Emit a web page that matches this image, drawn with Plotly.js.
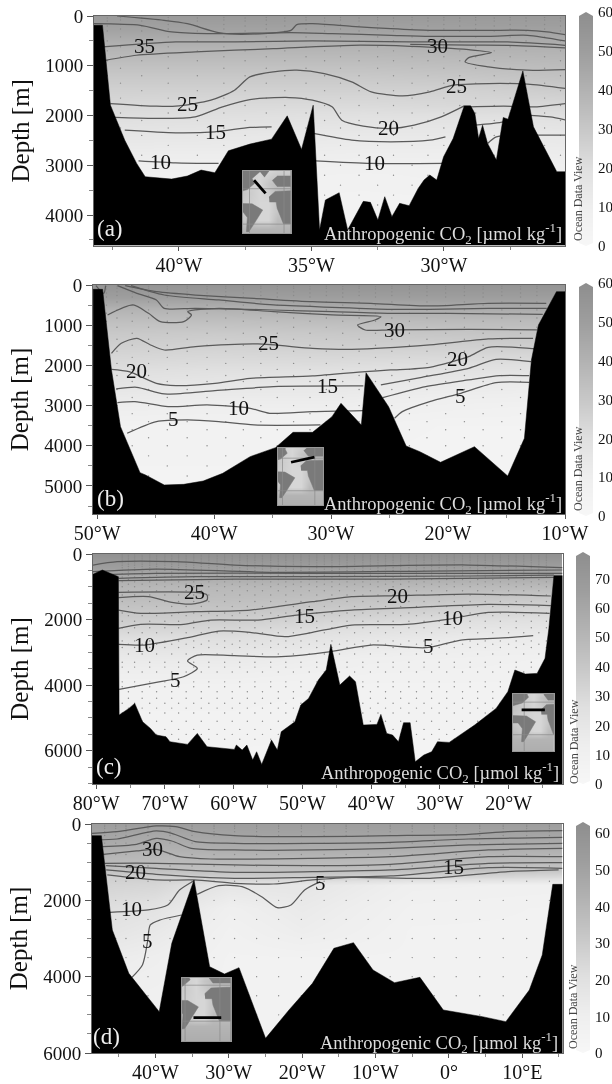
<!DOCTYPE html>
<html><head><meta charset="utf-8">
<script src="https://cdn.plot.ly/plotly-3.0.1.min.js"></script>
<style>html,body{margin:0;padding:0;background:#fff;overflow:hidden}#g{width:612px;height:1084px;filter:blur(0.45px)}</style>
</head><body><div id="g"></div>
<script>
// ---------- Panel (a) ----------
const aBedLon=[-43.2,-42.88,-42.58,-42.04,-41.59,-41.27,-40.27,-39.68,-39.16,-38.64,-38.13,-37.32,-36.5,-35.91,-35.37,-34.93,-34.69,-34.47,-33.95,-33.63,-33.04,-32.77,-32.49,-32.23,-31.96,-31.67,-31.31,-30.97,-30.75,-30.53,-30.27,-30.01,-29.65,-29.23,-28.99,-28.83,-28.69,-28.54,-28.35,-28.02,-27.76,-27.58,-27.02,-26.62,-25.74,-25.41];
const aBedDepth=[187,187,1793,2495,2963,3231,3278,3217,3097,3150,2709,2575,2475,2007,2682,1793,4301,3699,3552,4301,3726,3746,4100,3632,4033,3766,3813,3465,3298,3197,3298,2829,2462,1806,1806,1960,2462,2194,2562,2896,2040,2074,1104,2227,3130,3130];
const aLineLon=[
[-42.33,-40.56,-39.68,-38.5,-37.61,-35.77,-35.55,-34.96,-33.48,-32,-30.53,-28.32,-26.84,-26.11,-25.41],
[-43.2,-41.45,-40.27,-38.94,-35.77,-34.22,-32,-30.53,-28.32,-26.84,-25.41],
[-42.88,-40.12,-37.9,-34.96,-31.27,-27.58,-25.41],
[-31.27,-29,-27.58,-25.41],
[-42.77,-41.6,-39.38,-36.43,-33.48,-31.27,-29.06,-28.2,-29.06,-29.2,-28.32,-26.84,-25.41],
[-42.58,-40.86,-40.12,-38.79,-37.9,-37.32,-36.43,-35.55,-34.51,-33.48,-32.74,-31.56,-30.53,-29.65,-28.32,-26.84,-25.41],
[-42.4,-40.86,-39.38,-38.35,-37.32,-35.84,-34.96,-34.22,-33.85,-33.04,-32,-31.12,-30.1,-29.23],
[-28.99,-27.74,-26.56,-25.41],
[-28.83,-27.74,-26.9,-26,-25.41],
[-42.04,-40.12,-38.64,-37.32,-36.5],
[-34.93,-33.48,-32,-30.53,-29.94],
[-28.35,-28.02,-26.69,-25.41],
[-41.52,-40.12,-38.5],
[-34.84,-32.74,-30.01]];
const aLineDepth=[
[0,87,154,334,368,288,174,154,207,254,288,288,288,321,375],
[154,187,321,355,334,355,388,408,408,388,502],
[622,522,522,502,522,522,589],
[569,585,589,640],
[890,789,722,656,589,609,676,736,836,923,1023,1090,1077],
[1759,1813,1813,1692,1492,1224,1124,1090,1157,1324,1525,1605,1525,1391,1358,1371,1458],
[2040,2060,2027,1826,1679,1639,1692,1826,2094,2214,2261,2194,2027,1806],
[1826,1813,1826,1759],
[2194,2127,2000,2030,2090],
[2294,2348,2328,2241,2227],
[2361,2495,2528,2495,2428],
[2562,2428,2395,2395],
[2910,2950,2963],
[2910,2963,2963]];
const aLabelText=['35','30','25','25','15','20','10','10'];
const aLabelLon=[-41.3,-30.24,-39.68,-29.53,-38.6,-32.08,-40.68,-32.6];
const aLabelDepth=[609,609,1759,1411,2341,2261,2930,2963];
const aGridLon=[-43.2,-38,-33,-29,-25.4];
const aGridDepth=[0,300,600,900,1200,1500,1800,2100,2400,2800,3200,4000,4700];
const aGridZ=[[52,52,52,52,52],[47,47,47,48,48],[40,40,40,41,41],[35,35,35,36,37],[30,30,30,31,33],[26,26,26,26,28],[23,22,22,23,23],[20,19,18,18,19],[16,15,14,14,15],[11,11,10,10,11],[8,8,7,8,8],[5,5,5,5,5],[4,4,4,4,4]];
const aStationLon=[-42.7,-42.2,-41.4,-40.4,-39.3,-38.3,-37.5,-36.7,-36,-35.2,-34.5,-33.9,-33.2,-32.5,-31.9,-31.2,-30.6,-30,-29.4,-28.8,-28.1,-27.5,-26.9,-26.2,-25.6];
const aStationDepth=[40,100,200,300,500,700,900,1200,1500,1800,2100,2400,2800,3200,3600,4000];
const aStationDepthAlt=[30,80,170,260,420,620,820,1050,1350,1650,1950,2250,2600,3000,3400,3800];
// ---------- Panel (b) ----------
const bBedLon=[-50.33,-49.53,-48.77,-48,-46.33,-45.86,-44.26,-42.59,-40.93,-39.26,-36.92,-34.75,-33.25,-31.58,-29.92,-29.15,-27.41,-27.01,-25.08,-23.58,-22.41,-20.64,-17.74,-14.9,-13.47,-12.87,-12.27,-10.73,-10];
const bBedDepth=[108,108,2114,3524,4668,4726,4975,4959,4876,4685,4270,4046,3665,3665,3275,2944,3483,2181,3027,4005,4146,4411,4022,4751,3814,1866,995,166,166];
const bLineLon=[
[-50.1,-49.43,-49.27],
[-47.6,-44.9,-41.6,-36.6,-31.6,-26.6,-21.6,-16.6,-11.6],
[-47.1,-44.26,-39.59,-34.92,-29.91,-24.91,-21.57,-16.57,-11.56],
[-48.26,-46.6,-44.93,-44.26,-41.59,-34.92,-29.91,-24.91,-19.9,-11.9],
[-49.1,-46.93,-45.6,-44.59,-42.59,-41.93,-42.26,-39.59,-34.92,-29.91,-25.74,-26.24,-27.74,-27.08,-24.91,-18.24,-12.4],
[-48.77,-47.93,-46.6,-45.43,-44.26,-41.59,-36.25,-31.58,-28.24,-21.57,-16.57,-12.73],
[-48.77,-47.26,-44.93,-43.26,-39.92,-36.92,-31.58,-27.08,-24.91,-21.57,-18.24,-16.57,-12.56],
[-48.37,-46.6,-44.26,-39.92,-34.92,-27.24],
[-25.74,-22.24,-18.24,-15.9,-12.9],
[-48.26,-46.76,-43.93,-40.59,-36.92,-35.25,-31.58,-27.24],
[-25.58,-21.91,-18.24,-15.57,-13.06],
[-47.43,-44.93,-42.26,-39.59,-36.59,-30.91],
[-24.57,-23.91,-21.57,-18.9,-15.9,-13.06]];
const bLineDepth=[
[17,207,17],
[17,166,249,332,415,456,522,456,456],
[17,249,373,497,555,605,605,580,580],
[17,207,373,580,580,622,663,705,705,730],
[746,497,705,912,912,746,663,580,663,746,788,870,995,1119,1119,1103,1119],
[1699,1451,1326,1492,1617,1534,1467,1575,1600,1492,1343,1326],
[2097,2155,2446,2504,2446,2321,2263,2155,2114,2048,1782,1550,1592],
[2586,2545,2711,2628,2528,2512],
[2487,2296,2072,1849,1907],
[2926,2901,3026,2984,3067,3192,3150,3125],
[2802,2528,2363,2255,2255],
[3689,3399,3357,3399,3482,3482],
[3316,3150,2901,2694,2429,2421]];
const bLabelText=['25','30','20','20','15','10','5','5'];
const bLabelLon=[-35.35,-24.57,-46.66,-19.17,-30.31,-37.92,-43.43,-18.97];
const bLabelDepth=[1434,1119,2139,1849,2512,3051,3333,2761];
const bGridLon=[-50.4,-40,-30,-20,-10];
const bGridDepth=[0,300,600,900,1200,1500,2000,2500,3000,3500,5700];
const bGridZ=[[56,56,56,56,56],[50,50,50,50,50],[40,40,42,43,43],[34,34,35,36,36],[30,29,30,31,32],[27,26,27,27,28],[22,21,21,20,20],[17,15,15,13,12],[11,10,10,8,7],[6,6,6,5,5],[4,4,4,4,4]];
const bStationLon=[-49.2,-48.3,-47,-45.6,-44,-42.3,-40.6,-39,-37.5,-36,-34.6,-33.2,-31.8,-30.4,-29,-27.6,-26.2,-24.8,-23.3,-21.8,-20.2,-18.6,-17,-15.4,-13.8,-12.4];
const bStationDepth=[40,100,200,300,500,700,900,1200,1500,1800,2100,2400,2800,3200,3600,4000,4500,5000];
const bStationDepthAlt=[30,80,170,260,420,620,820,1050,1350,1650,1950,2250,2600,3000,3400,3800,4250,4750];
// ---------- Panel (c) ----------
const cBedLon=[-80.45,-79.09,-76.76,-76.65,-75.23,-74.38,-73.24,-72.1,-71.25,-69.83,-69.26,-66.7,-65.28,-63.86,-59.89,-59.6,-58.75,-58.07,-57.22,-56.65,-55.91,-54.49,-53.64,-53.07,-51.08,-50.23,-49.09,-47.67,-46.53,-45.85,-45.28,-44.55,-43.13,-42.27,-41.14,-39.15,-38.58,-37.73,-36.88,-36.02,-35.28,-34.32,-33.58,-32.33,-31.19,-30.34,-28.64,-24.94,-21.82,-20.11,-19.09,-17.56,-15.85,-14.7,-14.14,-13.41,-12.16];
const cBedDepth=[620,488,692,4912,4709,4556,5116,5319,5522,5573,5726,5807,5471,5878,5960,5827,5980,5827,6285,6031,6417,5675,5980,5421,5116,4607,4404,3844,3539,2756,3336,3997,3722,3895,5217,5197,4892,5471,5522,5726,5146,5146,6336,6133,6031,5726,5746,5217,4709,4200,3539,3661,3641,3183,2268,661,661];
const cLineLon=[
[-80.45,-76.93,-68.41,-59.89,-48.53,-37.16,-25.8,-12.16],
[-80.45,-71.25,-54.2,-31.48,-12.16],
[-80.45,-71.25,-48.5,-25.8,-12.16],
[-76.76,-65.57,-48.5,-25.8,-13.4],
[-76.76,-59.89,-37.16,-13.4],
[-76.76,-65,-63.86,-63.86,-66.14,-68.98,-72.39,-76.76],
[-76.76,-73.52,-65.57,-57.61,-48.52,-42.84,-36,-25.8,-13.86],
[-76.76,-73.52,-67.27,-63.3,-56.48,-50.8,-42.84,-34.32,-22.95,-13.86],
[-76.76,-72.95,-66.7,-62.16,-57.61,-52.5,-48.52,-42.84,-34.89,-28.64,-22.95,-14.03],
[-76.65,-71.25,-67.27,-65.28,-66.7,-65.28,-59.89,-53.07,-45.85,-40,-32.04,-26.93,-20.11,-16.42]];
const cLineDepth=[
[336,234,234,336,387,356,336,417],
[539,458,559,519,488],
[641,590,590,590,590],
[742,692,692,671,641],
[814,763,763,712],
[1170,1180,1251,1403,1526,1475,1302,1332],
[1709,1810,1760,1709,1454,1302,1271,1220,1281],
[2268,2146,2146,2014,2014,1861,1709,1637,1536,1576],
[2756,2776,2553,2349,2390,2522,2390,2166,2146,1983,1780,1810],
[4129,3915,3743,3488,3265,3082,3102,3132,2980,2776,2858,2624,2553,2492]];
const cLabelText=['25','20','15','10','10','5','5'];
const cLabelLon=[-65.68,-36.14,-49.66,-28.18,-72.95,-31.65,-68.41];
const cLabelDepth=[1170,1281,1881,1942,2776,2797,3844];
const cGridLon=[-80.45,-60,-40,-25,-12.16];
const cGridDepth=[0,400,700,1000,1300,1700,2100,2600,3200,4000,7000];
const cGridZ=[[58,58,58,58,58],[50,50,50,50,50],[43,43,43,43,43],[38,37,37,36,36],[36,35,33,31,30],[31,31,28,25,24],[27,26,22,19,18],[20,20,15,12,12],[13,13,9,8,7],[7,7,6,6,6],[4,4,4,4,4]];
const cStationLon=[-76.2,-75.3,-74.4,-73.3,-72.2,-71.2,-70,-69,-68,-66.9,-65.8,-64.7,-63.6,-62.4,-61.3,-60.2,-59.1,-58,-56.9,-55.8,-54.6,-53.5,-52.4,-51.3,-50.2,-49,-47.9,-46.8,-45.7,-44.6,-43.5,-42.4,-41.2,-40.1,-39,-37.9,-36.8,-35.7,-34.5,-33.4,-32.3,-31.2,-30.1,-29,-27.9,-26.7,-25.6,-24.5,-23.4,-22.3,-21.2,-20,-18.9,-17.8,-16.7,-15.6,-14.5];
const cStationDepth=[20,60,100,150,200,270,340,420,500,600,700,850,1000,1250,1450,1800,2050,2250,2650,2850,3300,3450,3900,4050,4550,4850,5350,5650];
const cStationDepthAlt=[40,80,130,180,240,310,380,460,550,650,780,920,1120,1600,1880,2400,2750,3050,3600,4200,4400,4700,5100,5500];
// ---------- Panel (d) ----------
const dBedLon=[-48.63,-47.35,-45.86,-43.62,-39.47,-37.76,-34.73,-32.6,-30.58,-28.6,-24.98,-21.79,-18.59,-15.67,-13,-10.34,-7.41,-3.95,-0.76,4.57,7.76,10.96,12.72,14.15,15.48];
const dBedDepth=[306,306,2777,3912,4917,3126,1467,3738,3930,3764,5615,4873,4174,3257,3109,3825,4157,4017,4873,5048,5179,4349,3432,1581,1581];
const dLineLon=[
[-48.63,-45.22,-39.89,-37.23,-34.57,-29.24,-18.59,-7.94,2.71,8.03,15.48],
[-48.15,-45.22,-39.89,-37.76,-34.57,-29.24,-18.59,-7.94,2.71,15.48],
[-47.24,-42.56,-39.89,-37.76,-35.1,-29.24,-18.59,-7.94,2.71,15.48],
[-47.08,-42.56,-39.89,-36.7,-32.44,-18.59,-7.94,5.37,15.48],
[-46.9,-39.89,-29.24,-18.59,-7.94,5.37,15.48],
[-46.71,-39.89,-29.24,-18.59,-7.94,5.37,15.48],
[-46.7,-39.89,-29.24,-18.59,-7.94,5.37,15.48],
[-46.55,-39.89,-34.73,-29.24,-23.92,-18.59,-13.27,-2.62,8.03,14.95],
[-34.3,-31.37,-28.18,-25.52,-23.39,-21.52,-19.66,-17.53],
[-46.18,-40.96,-38.3,-36.7,-34.73],
[-43.19,-41.76,-41.06,-40.69,-39.36,-36.43]];
const dLineDepth=[
[245,201,52,70,201,306,332,306,271,201,175],
[419,393,183,245,463,507,507,480,393,349],
[594,533,376,445,638,681,681,638,550,507],
[795,707,664,856,917,900,856,681,638],
[1030,1030,1074,1092,1057,856,856],
[1092,1161,1266,1249,1205,1030,1013],
[1205,1319,1423,1397,1362,1144,1161],
[1336,1467,1467,1554,1572,1467,1397,1423,1249,1205],
[1843,1616,1642,1904,2192,2122,1729,1511],
[2314,2253,2122,1729,1485],
[4017,3694,3083,2646,2515,2384]];
const dLabelText=['30','20','15','5','10','5'];
const dLabelLon=[-40.32,-42.72,0.57,-17.53,-43.19,-41.06];
const dLabelDepth=[664,1249,1118,1537,2236,3065];
const dGridLon=[-48.63,-40,-30,-20,-5,15.48];
const dGridDepth=[0,300,600,900,1200,1400,1600,2200,2800,3500,6000];
const dGridZ=[[50,50,50,50,50,50],[47,45,47,47,47,46],[43,41,43,43,43,42],[38,37,38,38,38,37],[34,33,34,34,34,31],[27,27,27,27,25,22],[25,24,16,16,9,8],[21,18,9,13,7,6],[18,14,7,11,6,6],[12,10,6,6,6,6],[5,5,5,5,5,5]];
const dStationLon=[-46.9,-45.4,-44,-41,-38,-35,-32,-29.2,-26.2,-23.2,-20.1,-17,-14,-11,-8,-5,-2,1,4.2,7.4,10.6,13.7];
const dStationDepth=[30,70,120,200,300,500,800,1100,1500,2000,2500,3000,3500,4000,4500,5000,5500];
const dStationDepthAlt=[30,70,120,200,300,500,800,1100,1500,2000,2500,3000,3500,4000,4500,5000,5500];
// ---------- Shared text ----------
const panelLetters=['(a)','(b)','(c)','(d)'];
const xMajor=[[-40,-35,-30],[-50,-40,-30,-20,-10],[-80,-70,-60,-50,-40,-30,-20],[-40,-30,-20,-10,0,10]];
const xMajorText=[['40°W','35°W','30°W'],['50°W','40°W','30°W','20°W','10°W'],['80°W','70°W','60°W','50°W','40°W','30°W','20°W'],['40°W','30°W','20°W','10°W','0°','10°E']];
const xMinor=[[-42.5,-37.5,-32.5,-27.5],[-45,-35,-25,-15],[-75,-65,-55,-45,-35,-25,-15],[-45,-35,-25,-15,-5,5,15]];
const yMajor=[[0,1000,2000,3000,4000],[0,1000,2000,3000,4000,5000],[0,2000,4000,6000],[0,2000,4000,6000]];
const barTicks=[[0,10,20,30,40,50,60],[0,10,20,30,40,50,60],[0,10,20,30,40,50,60,70],[0,10,20,30,40,50,60]];
const barLevels=[0,5,10,15,20,25,30,35,40,45,50,55,60,65,70,75,80];
const unitText='Anthropogenic CO<sub>2</sub> [µmol kg<sup>-1</sup>]';
// ---------- Inset map (lon, lat) ----------
const mapOceanLon=[-110,-50,-30,-10,31];
const mapOceanLat=[-100,-60,-40,-20,0,20,40,70];
const mapOceanZ=[[4,4,4,4,4],[5,5,5,5,5],[6,9,9,6,6],[7,9,9,7,7],[7,9,9,7,7],[6,9,8,6,6],[7,9,7,6,6],[8,9,9,8,8]];
const landNaLon=[-110,-48.2,-68,-62.5,-79,-110],landNaLat=[70,70,53.2,42,28,19.6];
const landGrLon=[-51.5,-29.5,-40],landGrLat=[70,70,56];
const landSaLon=[-110,-68,-43.8,-53.7,-68,-75.7,-81,-79,-90,-110],landSaLat=[-2.8,-4.2,-18.2,-35,-56,-67,-67,-35,-21,-21];
const landAfLon=[-29.5,-15.2,20,31,31,3.5,-10.8,-13,-28.4],landAfLat=[11.2,23.8,25.2,25.2,-49,-49,-14,0,0];
const landEuLon=[-10.8,31,31,-10.8,-22],landEuLat=[58.8,58.8,35,35,49];
const mapGridLat=[-50,30];
const mapGridLon=[-74,5];
const sectionLon=[[-63.6,-37.2],[-53.1,4.1],[-80.8,-19.2],[-55,8]];
const sectionLat=[[49,19.6],[20,32.6],[10.8,10.8],[-42,-42]];
// ---------- Layout parameters ----------
const frames=[
 {l:94,r:565,t:16,b:245.6,xr:[-43.2,-25.43],yr:[4615,0],bar:[579,593,12,246],zr:[0,60],map:[242.5,290.6,171,233],mx:[-90,20],my:[-70,70],txt:[564,234],ltr:[110,229],odv:[578,199]},
 {l:93,r:565,t:285,b:514,xr:[-50.35,-10],yr:[5697,0],bar:[579,593,283,516],zr:[0,60],map:[278,323,448,505],mx:[-85,25],my:[-85,55],txt:[564,503],ltr:[110,498],odv:[578,469]},
 {l:93,r:562.5,t:554,b:784,xr:[-80.45,-12.16],yr:[7015,0],bar:[576,590,552,784],zr:[0,79],map:[512.5,554,694,751],mx:[-105,5],my:[-90,50],txt:[561,772],ltr:[109,766],odv:[574,742]},
 {l:92,r:562.5,t:824,b:1053,xr:[-48.63,15.48],yr:[6000,0],bar:[576,590,822,1053],zr:[0,63],map:[182,230.5,978,1041],mx:[-81,29],my:[-94,46],txt:[560,1042],ltr:[106,1036],odv:[573,1007]}];
const ramp=[[0,'#f7f7f7'],[0.17,'#eeeeee'],[0.33,'#e0e0e0'],[0.5,'#c8c8c8'],[0.67,'#b2b2b2'],[0.83,'#9e9e9e'],[1,'#8e8e8e']];
const panels=[
 {bl:aBedLon,bd:aBedDepth,ll:aLineLon,ld:aLineDepth,tt:aLabelText,tl:aLabelLon,td:aLabelDepth,gl:aGridLon,gd:aGridDepth,gz:aGridZ,sl:aStationLon,sd:aStationDepth,sa:aStationDepthAlt},
 {bl:bBedLon,bd:bBedDepth,ll:bLineLon,ld:bLineDepth,tt:bLabelText,tl:bLabelLon,td:bLabelDepth,gl:bGridLon,gd:bGridDepth,gz:bGridZ,sl:bStationLon,sd:bStationDepth,sa:bStationDepthAlt},
 {bl:cBedLon,bd:cBedDepth,ll:cLineLon,ld:cLineDepth,tt:cLabelText,tl:cLabelLon,td:cLabelDepth,gl:cGridLon,gd:cGridDepth,gz:cGridZ,sl:cStationLon,sd:cStationDepth,sa:cStationDepthAlt},
 {bl:dBedLon,bd:dBedDepth,ll:dLineLon,ld:dLineDepth,tt:dLabelText,tl:dLabelLon,td:dLabelDepth,gl:dGridLon,gd:dGridDepth,gz:dGridZ,sl:dStationLon,sd:dStationDepth,sa:dStationDepthAlt}];
const W=612,H=1084,F='"Liberation Serif","Times New Roman",serif';
const data=[],layout={width:W,height:H,margin:{l:0,r:0,t:0,b:0,autoexpand:false},paper_bgcolor:'#fff',plot_bgcolor:'#fff',showlegend:false,annotations:[],shapes:[],font:{family:F,color:'#111'}};
const ax=(i,s)=>s+(i===0?'':i+1);
const name=(s,i)=>s+'axis'+(i===0?'':i+1);
const px=x=>x/W, py=y=>1-y/H;
const note=o=>layout.annotations.push(Object.assign({showarrow:false,xanchor:'center',yanchor:'middle'},o));
panels.forEach((p,k)=>{
 const f=frames[k],a=k*3,xa=ax(a,'x'),ya=ax(a,'y');
 layout[name('x',a)]={domain:[px(f.l),px(f.r)],range:f.xr,anchor:ya,tickmode:'array',tickvals:xMajor[k],ticktext:xMajorText[k],ticks:'outside',ticklen:4,tickcolor:'#555',linecolor:'#666',mirror:true,showline:true,showgrid:false,zeroline:false,ticklabelstandoff:-3,tickfont:{size:20,family:F,color:'#111'},minor:{tickmode:'array',tickvals:xMinor[k],ticks:'outside',ticklen:3,tickcolor:'#888',showgrid:false}};
 layout[name('y',a)]={domain:[py(f.b),py(f.t)],range:f.yr,anchor:xa,tickmode:'array',tickvals:yMajor[k],ticks:'outside',ticklen:6,tickcolor:'#555',linecolor:'#666',mirror:true,showline:true,showgrid:false,zeroline:false,tickfont:{size:19,family:F,color:'#111'},minor:{dtick:500,ticks:'outside',ticklen:4,tickcolor:'#888',showgrid:false},title:{text:'Depth [m]',font:{size:25,family:F,color:'#111'},standoff:8}};
 data.push({type:'heatmap',x:p.gl,y:p.gd,z:p.gz,zmin:0,zmax:60,zsmooth:'best',colorscale:ramp,showscale:false,xaxis:xa,yaxis:ya,hoverinfo:'skip'});
 const sx=[],sy=[];
 p.sl.forEach((lon,i)=>(i%2?p.sa:p.sd).forEach(d=>{sx.push(lon);sy.push(d);}));
 data.push({type:'scatter',mode:'markers',x:sx,y:sy,marker:{size:1.4,color:'#8a8a8a'},xaxis:xa,yaxis:ya,hoverinfo:'skip'});
 p.ll.forEach((lon,i)=>data.push({type:'scatter',mode:'lines',x:lon,y:p.ld[i],line:{color:'#5a5a5a',width:1.25,shape:'spline',smoothing:0.7},xaxis:xa,yaxis:ya,hoverinfo:'skip'}));
 const bx=[f.xr[0],...p.bl,f.xr[1]],by=[f.yr[0],...p.bd,f.yr[0]];
 data.push({type:'scatter',mode:'lines',x:bx,y:by,fill:'toself',fillcolor:'#000',line:{color:'#000',width:0.5},xaxis:xa,yaxis:ya,hoverinfo:'skip'});
 p.tt.forEach((t,i)=>note({xref:xa,yref:ya,x:p.tl[i],y:p.td[i],text:t,font:{size:21,family:F,color:'#111'}}));
 note({xref:'paper',yref:'paper',x:px(f.txt[0]),y:py(f.txt[1]),xanchor:'right',text:unitText,font:{size:18.5,family:F,color:'#dcdcdc'}});
 note({xref:'paper',yref:'paper',x:px(f.ltr[0]),y:py(f.ltr[1]),text:panelLetters[k],font:{size:23,family:F,color:'#eeeeee'}});
 // colour bar subplot
 const cx=ax(a+1,'x'),cy=ax(a+1,'y');
 layout[name('x',a+1)]={domain:[px(f.bar[0]),px(f.bar[1])],range:[0,1],anchor:cy,visible:false,tickvals:[]};
 layout[name('y',a+1)]={domain:[py(f.bar[3]),py(f.bar[2])],range:f.zr,anchor:cx,side:'right',tickmode:'array',tickvals:barTicks[k],ticks:'',showline:false,showgrid:false,zeroline:false,tickfont:{size:15,family:F,color:'#111'},ticklabelstandoff:4};
 data.push({type:'heatmap',x:[0,1],y:barLevels,z:barLevels.map(v=>[v,v]),zmin:0,zmax:f.zr[1],zsmooth:'best',colorscale:ramp,showscale:false,xaxis:cx,yaxis:cy,hoverinfo:'skip'});
 const [x0,x1,t,b]=f.bar,m=(x0+x1)/2;
 [[x0,t,m,t,x0,t+4],[x1,t,m,t,x1,t+4],[x0,b,m,b,x0,b-3],[x1,b,m,b,x1,b-3]].forEach(q=>layout.shapes.push({type:'path',xref:'paper',yref:'paper',layer:'above',path:`M${px(q[0])},${py(q[1])}L${px(q[2])},${py(q[3])}L${px(q[4])},${py(q[5])}Z`,fillcolor:'#fff',line:{width:0}}));
 note({xref:'paper',yref:'paper',x:px(f.odv[0]),y:py(f.odv[1]),text:'Ocean Data View',textangle:-90,font:{size:12,family:F,color:'#444'}});
 // inset map
 const mx=ax(a+2,'x'),my=ax(a+2,'y');
 layout[name('x',a+2)]={domain:[px(f.map[0]),px(f.map[1])],range:f.mx,anchor:my,showticklabels:false,tickvals:[],ticks:'',showgrid:false,zeroline:false,showline:true,mirror:true,linecolor:'#999'};
 layout[name('y',a+2)]={domain:[py(f.map[3]),py(f.map[2])],range:f.my,anchor:mx,showticklabels:false,tickvals:[],ticks:'',showgrid:false,zeroline:false,showline:true,mirror:true,linecolor:'#999'};
 data.push({type:'heatmap',x:mapOceanLon,y:mapOceanLat,z:mapOceanZ,zmin:0,zmax:10,zsmooth:'best',colorscale:[[0,'#8a8a8a'],[0.5,'#b4b4b4'],[1,'#dedede']],showscale:false,xaxis:mx,yaxis:my,hoverinfo:'skip'});
 [[landNaLon,landNaLat],[landGrLon,landGrLat],[landSaLon,landSaLat],[landAfLon,landAfLat],[landEuLon,landEuLat]].forEach(q=>data.push({type:'scatter',mode:'lines',x:q[0],y:q[1],fill:'toself',fillcolor:'#7a7a7a',line:{color:'#7a7a7a',width:0.5},xaxis:mx,yaxis:my,hoverinfo:'skip'}));
 mapGridLat.forEach(v=>data.push({type:'scatter',mode:'lines',x:f.mx,y:[v,v],line:{color:'#8a8a8a',width:0.7},xaxis:mx,yaxis:my,hoverinfo:'skip'}));
 mapGridLon.forEach(v=>data.push({type:'scatter',mode:'lines',x:[v,v],y:f.my,line:{color:'#8a8a8a',width:0.7},xaxis:mx,yaxis:my,hoverinfo:'skip'}));
 data.push({type:'scatter',mode:'lines',x:sectionLon[k],y:sectionLat[k],line:{color:'#000',width:2.8},xaxis:mx,yaxis:my,hoverinfo:'skip'});
});
Plotly.newPlot('g',data,layout,{displayModeBar:false,staticPlot:true});
</script></body></html>
